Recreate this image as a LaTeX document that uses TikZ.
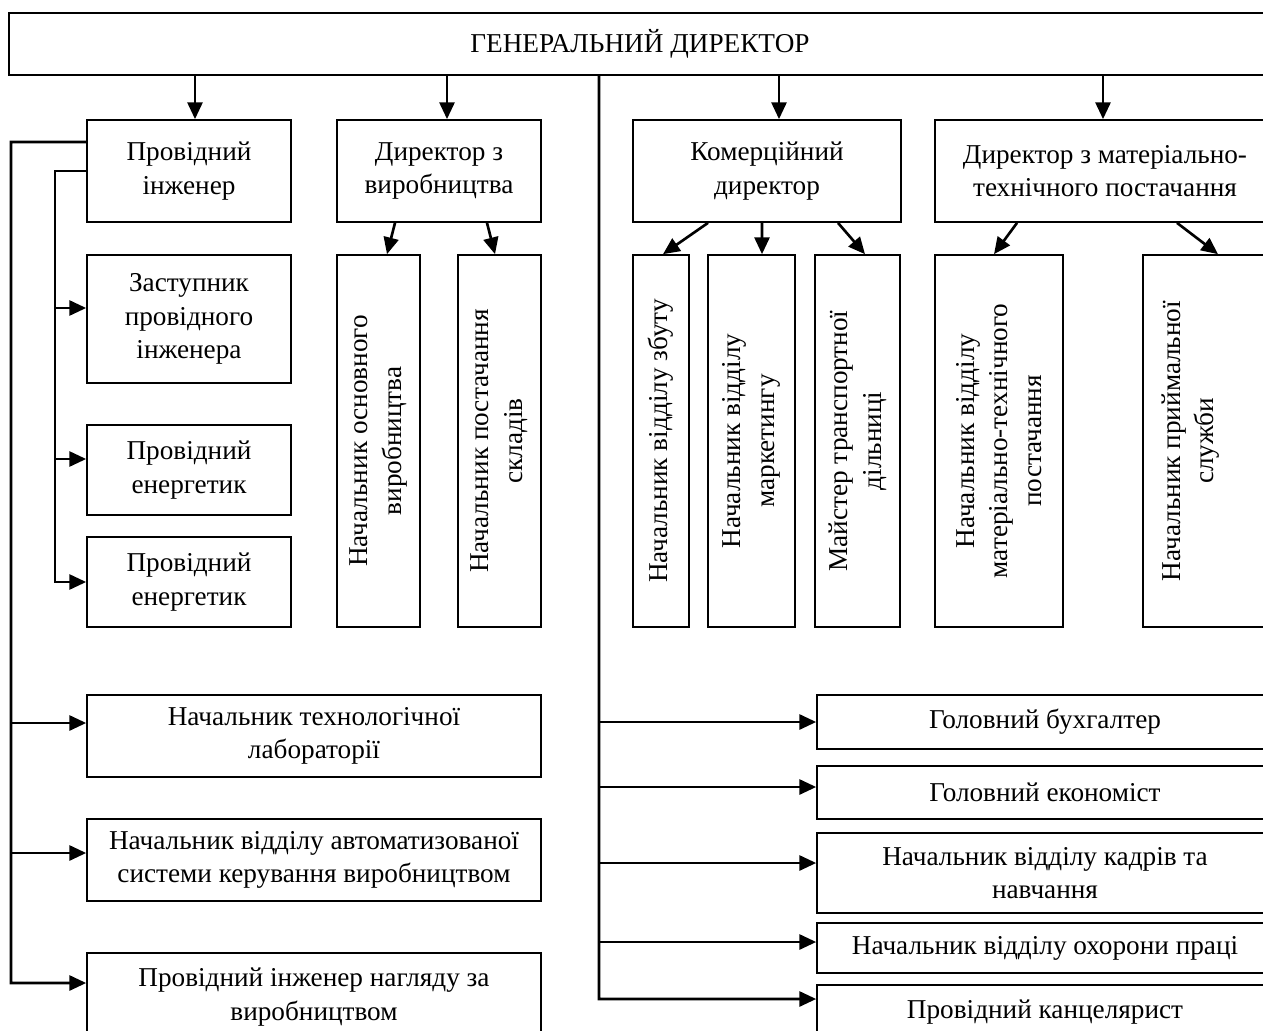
\documentclass[tikz,border=0pt]{standalone}
\usepackage{fontspec}
\setmainfont{Liberation Serif}
\usetikzlibrary{arrows.meta}
\tikzset{
    box/.style={draw, line width=1pt, align=center, inner sep=2pt, font=\fontsize{15.5}{19.2}\selectfont},
    vbox/.style={box, rotate=90},
    conn/.style={line width=1.5pt},
    arr/.style={conn, -{Triangle[length=9.5pt,width=8.5pt]}},
    rarr/.style={conn, {Triangle[length=9.5pt,width=8.5pt]}-},
}

\begin{document}
\begin{tikzpicture}[x=0.02cm, y=-0.02cm]
        \useasboundingbox (0,0) rectangle (1263,1030);
        \clip (0,0) rectangle (1263,1030);

        \node[box, minimum width=25.24cm, minimum height=1.24cm] (gd) at (640,44) {ГЕНЕРАЛЬНИЙ ДИРЕКТОР};

        \node[box, minimum width=4.08cm, minimum height=2.04cm] (pi) at (189,171) {Провідний\\інженер};
        \node[box, minimum width=4.08cm, minimum height=2.04cm] (dv) at (439,171) {Директор з\\виробництва};
        \node[box, minimum width=5.36cm, minimum height=2.04cm] (kd) at (767,171) {Комерційний\\директор};
        \node[box, minimum width=6.8cm, minimum height=2.04cm] (mt) at (1105,171) {Директор з матеріально-\\технічного постачання};

        \node[vbox, minimum width=7.44cm, minimum height=1.66cm] (vo) at (378.5,441) {Начальник основного\\виробництва};
        \node[vbox, minimum width=7.44cm, minimum height=1.66cm] (ps) at (499.5,441) {Начальник постачання\\складів};
        \node[vbox, minimum width=7.44cm, minimum height=1.12cm] (zb) at (661,441) {Начальник відділу збуту};
        \node[vbox, minimum width=7.44cm, minimum height=1.74cm] (mk) at (751.5,441) {Начальник відділу\\маркетингу};
        \node[vbox, minimum width=7.44cm, minimum height=1.7cm] (ms) at (857.5,441) {Майстер транспортної\\дільниці};
        \node[vbox, minimum width=7.44cm, minimum height=2.56cm] (nv) at (999,441) {Начальник відділу\\матеріально-технічного\\постачання};
        \node[vbox, minimum width=7.44cm, minimum height=2.64cm] (pr) at (1209,441) {Начальник приймальної\\служби\\[5pt]\mbox{}};

        \node[box, minimum width=4.08cm, minimum height=2.56cm] (zp) at (189,319) {Заступник\\провідного\\інженера};
        \node[box, minimum width=4.08cm, minimum height=1.8cm] (pe1) at (189,470) {Провідний\\енергетик};
        \node[box, minimum width=4.08cm, minimum height=1.8cm] (pe2) at (189,582) {Провідний\\енергетик};

        \node[box, minimum width=9.08cm, minimum height=1.64cm] (tl) at (314,736) {Начальник технологічної\\лабораторії};
        \node[box, minimum width=9.08cm, minimum height=1.64cm] (asu) at (314,860) {Начальник відділу автоматизованої\\системи керування виробництвом};
        \node[box, minimum width=9.08cm, minimum height=1.76cm] (ng) at (314,997) {Провідний інженер нагляду за\\виробництвом};

        \node[box, minimum width=9.12cm, minimum height=1.08cm] (gb) at (1045,722) {Головний бухгалтер};
        \node[box, minimum width=9.12cm, minimum height=1.06cm] (ge) at (1045,792.5) {Головний економіст};
        \node[box, minimum width=9.12cm, minimum height=1.6cm] (kn) at (1045,873) {Начальник відділу кадрів та\\навчання};
        \node[box, minimum width=9.12cm, minimum height=1.0cm] (op) at (1045,948) {Начальник відділу охорони праці};
        \node[box, minimum width=9.12cm, minimum height=1.08cm] (pk) at (1045,1012) {Провідний канцелярист};

        \coordinate (lo) at (11,983);
        \coordinate (li) at (55,582);
        \coordinate (ro) at (599,999);

        \draw[arr] ([xshift=0.12cm]pi.north |- gd.south) -- ([xshift=0.12cm]pi.north);
        \draw[arr] ([xshift=0.16cm]dv.north |- gd.south) -- ([xshift=0.16cm]dv.north);
        \draw[arr] ([xshift=0.24cm]kd.north |- gd.south) -- ([xshift=0.24cm]kd.north);
        \draw[arr] ([xshift=-0.04cm]mt.north |- gd.south) -- ([xshift=-0.04cm]mt.north);

        \draw[arr] ([xshift=-0.88cm]dv.south) -- ([xshift=0.17cm]vo.east);
        \draw[arr] ([xshift=0.96cm]dv.south) -- ([xshift=-0.09cm]ps.east);
        \draw[arr] ([xshift=-1.18cm]kd.south) -- ([xshift=0.04cm]zb.east);
        \draw[arr] ([xshift=-0.1cm]kd.south) -- ([xshift=0.21cm]mk.east);
        \draw[arr] ([xshift=1.42cm]kd.south) -- ([xshift=0.15cm]ms.east);
        \draw[arr] ([xshift=-1.76cm]mt.south) -- ([xshift=-0.1cm]nv.east);
        \draw[arr] ([xshift=1.44cm]mt.south) -- ([xshift=0.18cm]pr.east);

        \draw[arr] (pi.west) -| (li) -- (pe2.west);
        \draw[rarr] ([yshift=0.22cm]zp.west) -| (li);
        \draw[rarr] ([yshift=0.22cm]pe1.west) -| (li);

        \draw[arr] ([yshift=0.58cm]pi.west) -| (lo) -- ([yshift=0.28cm]ng.west);
        \draw[rarr] ([yshift=0.26cm]tl.west) -| (lo);
        \draw[rarr] ([yshift=0.14cm]asu.west) -| (lo);

        \draw[arr] (gd.south -| ro) -- (ro) -- ([yshift=0.26cm]pk.west);
        \draw[rarr] (gb.west) -| (ro);
        \draw[rarr] ([yshift=0.11cm]ge.west) -| (ro);
        \draw[rarr] ([yshift=0.2cm]kn.west) -| (ro);
        \draw[rarr] ([yshift=0.12cm]op.west) -| (ro);
\end{tikzpicture}
\end{document}
